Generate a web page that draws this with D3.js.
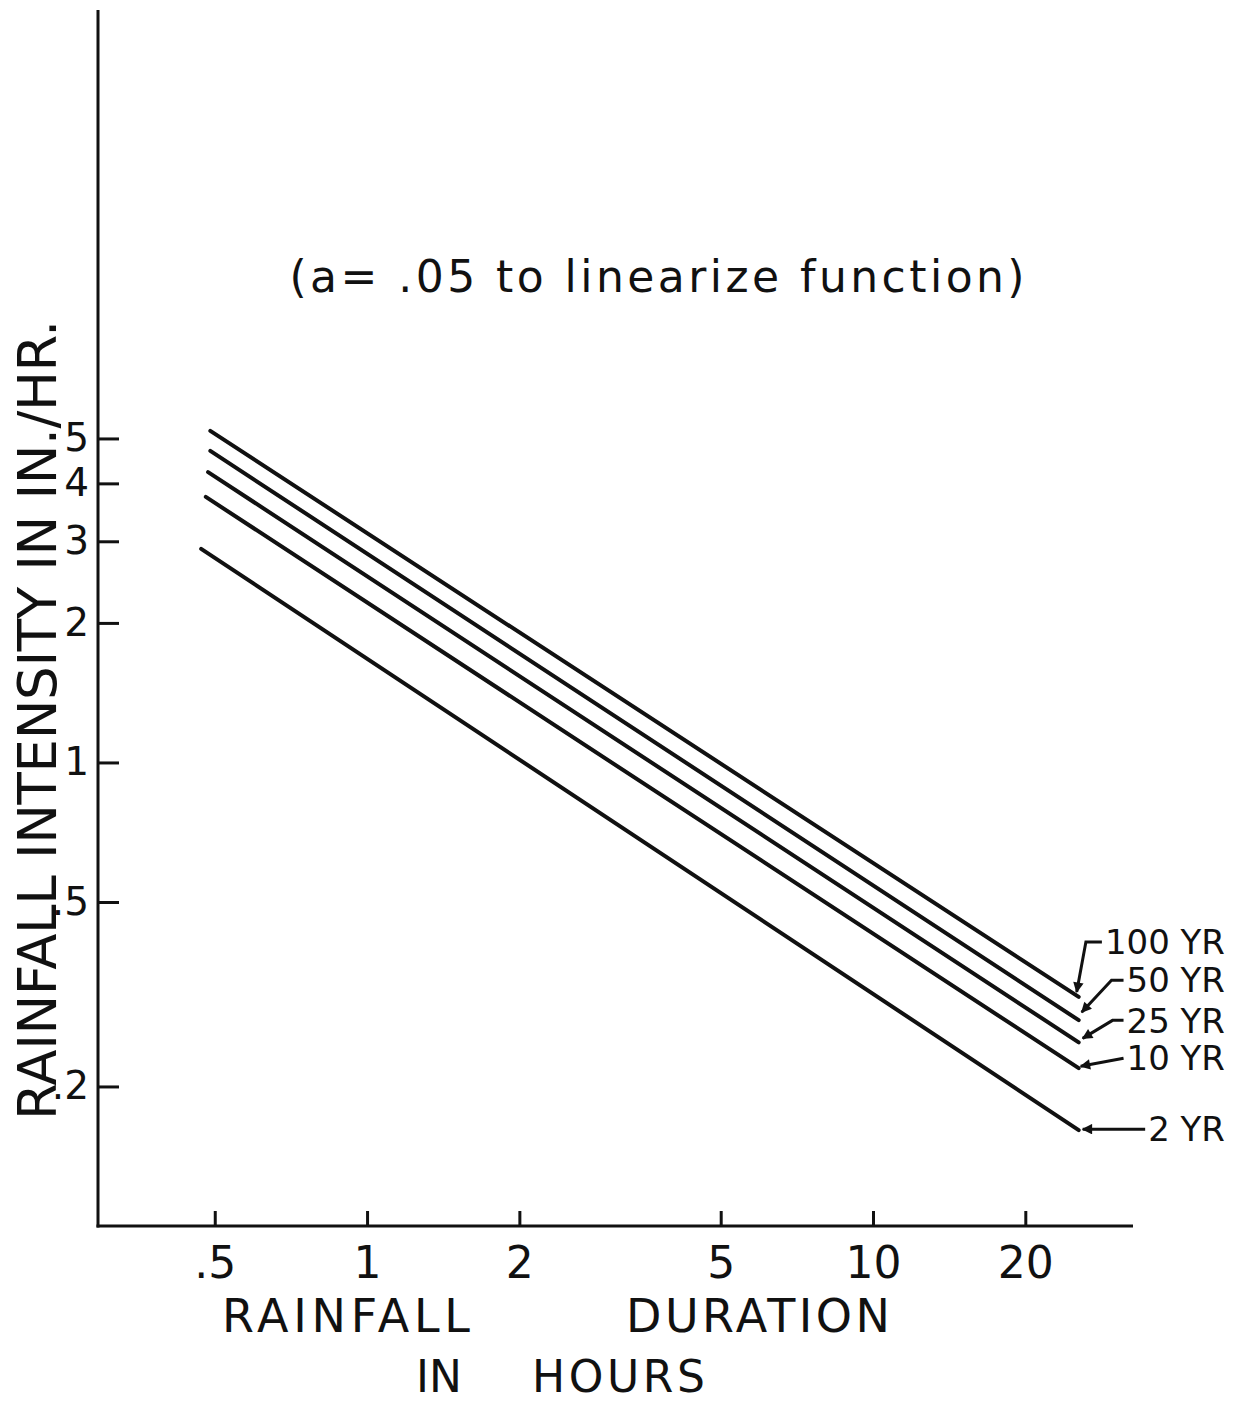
<!DOCTYPE html>
<meta charset="utf-8">
<style>
    body { margin: 0; background: #fff; }
    text { font-family: 'DejaVu Sans', sans-serif; fill: #111; }
    .axis path, .axis line { stroke: #111; stroke-width: 3px; }
    .curve { fill: none; stroke: #111; stroke-width: 4px; stroke-linecap: round; }
    .leader { fill: none; stroke: #111; stroke-width: 3px; }
</style>
<body>
<div id="chart"></div>
<script src="https://d3js.org/d3.v7.min.js"></script>
<script>
    // return periods and the two ends of each straight line (log-log)
    var periods = ["100 YR", "50 YR", "25 YR", "10 YR", "2 YR"];
    var startDuration = [0.49, 0.49, 0.485, 0.48, 0.47];
    var endDuration = [25.5, 25.5, 25.5, 25.5, 25.5];
    var startIntensity = [5.19, 4.70, 4.23, 3.74, 2.89];
    var endIntensity = [0.312, 0.278, 0.249, 0.219, 0.161];

    var xTicks = [0.5, 1, 2, 5, 10, 20];
    var xTickLabels = [".5", "1", "2", "5", "10", "20"];
    var yTicks = [0.2, 0.5, 1, 2, 3, 4, 5];
    var yTickLabels = [".2", ".5", "1", "2", "3", "4", "5"];

    // label placement next to the line ends (layout only)
    var labelDy = [-55, -40, -22, -10, -1];
    var leaderElbow = [16, 12, 11, 0, 0];
    var tipDx = [-2, 3, 4, 2, 4];
    var tipDy = [-5, -8, -4, -2, -1];

    var width = 1242, height = 1402;
    var plotLeft = 98, plotRight = 1133, plotTop = 10, plotBottom = 1226;

    var svg = d3.select("#chart").append("svg")
        .attr("width", width)
        .attr("height", height);

    svg.append("defs").append("marker")
        .attr("id", "arrow")
        .attr("viewBox", "0 0 10 10")
        .attr("refX", 9).attr("refY", 5)
        .attr("markerWidth", 4.5).attr("markerHeight", 3.5)
        .attr("markerUnits", "strokeWidth")
        .attr("orient", "auto")
        .append("path")
        .attr("d", "M0,0L10,5L0,10z")
        .attr("fill", "#111");

    var x = d3.scaleLog().domain([0.2939, 32.65]).range([plotLeft, plotRight]);
    var y = d3.scaleLog().domain([0.1, 42]).range([plotBottom, plotTop]);

    var xAxis = d3.axisBottom(x)
        .tickValues(xTicks)
        .tickFormat(function (d, i) { return xTickLabels[i]; })
        .tickSizeInner(-15).tickSizeOuter(0).tickPadding(21);

    var yAxis = d3.axisLeft(y)
        .tickValues(yTicks)
        .tickFormat(function (d, i) { return yTickLabels[i]; })
        .tickSizeInner(-21).tickSizeOuter(0).tickPadding(9);

    var gx = svg.append("g")
        .attr("class", "axis")
        .attr("transform", "translate(0," + plotBottom + ")")
        .call(xAxis);
    gx.selectAll("text")
        .style("font-size", "44px")
        .attr("fill", "#111");

    var gy = svg.append("g")
        .attr("class", "axis")
        .attr("transform", "translate(" + plotLeft + ",0)")
        .call(yAxis);
    gy.selectAll("text")
        .style("font-size", "39px")
        .attr("fill", "#111");

    // stretch the axes to the hand drawn extents
    gx.select(".domain").attr("d", "M" + (plotLeft - 1.5) + ",0H" + plotRight);
    gy.select(".domain").attr("d", "M0," + plotTop + "V" + (plotBottom + 1.5));

    var series = periods.map(function (p, i) {
        return {
            name: p,
            points: [[startDuration[i], startIntensity[i]], [endDuration[i], endIntensity[i]]]
        };
    });

    var line = d3.line()
        .x(function (d) { return x(d[0]); })
        .y(function (d) { return y(d[1]); });

    svg.append("g").selectAll("path")
        .data(series)
        .enter().append("path")
        .attr("class", "curve")
        .attr("d", function (d) { return line(d.points); });

    // labels on the right with arrows pointing to the line ends
    var labels = svg.append("g").selectAll("g")
        .data(series)
        .enter().append("g");

    labels.append("text")
        .attr("x", 1225)
        .attr("y", function (d, i) { return y(endIntensity[i]) + labelDy[i]; })
        .attr("dy", "0.36em")
        .attr("text-anchor", "end")
        .style("font-size", "34px")
        .text(function (d) { return d.name; });

    labels.append("path")
        .attr("class", "leader")
        .attr("marker-end", "url(#arrow)")
        .attr("d", function (d, i) {
            var t = d3.select(this.parentNode).select("text").node();
            var sx = 1225 - t.getComputedTextLength() - 3;
            var sy = y(endIntensity[i]) + labelDy[i];
            var ex = x(endDuration[i]) + tipDx[i];
            var ey = y(endIntensity[i]) + tipDy[i];
            var p = d3.path();
            p.moveTo(sx, sy);
            if (leaderElbow[i] > 0) p.lineTo(sx - leaderElbow[i], sy);
            p.lineTo(ex, ey);
            return p.toString();
        });

    svg.append("text")
        .attr("x", 657)
        .attr("y", 292)
        .attr("text-anchor", "middle")
        .attr("textLength", 735)
        .attr("lengthAdjust", "spacing")
        .style("font-size", "44px")
        .text("(a= .05 to linearize function)");

    svg.append("text")
        .attr("transform", "translate(56,720) rotate(-90)")
        .attr("text-anchor", "middle")
        .attr("textLength", 800)
        .attr("lengthAdjust", "spacing")
        .style("font-size", "53px")
        .text("RAINFALL INTENSITY IN IN./HR.");

    var words = [
        { t: "RAINFALL", x: 222, y: 1332, w: 248 },
        { t: "DURATION", x: 626, y: 1332, w: 264 },
        { t: "IN", x: 416, y: 1392, w: 0 },
        { t: "HOURS", x: 532, y: 1392, w: 173 }
    ];
    var wordText = svg.append("g").selectAll("text")
        .data(words)
        .enter().append("text")
        .attr("x", function (d) { return d.x; })
        .attr("y", function (d) { return d.y; })
        .style("font-size", function (d) { return d.y > 1350 ? "44px" : "46px"; })
        .text(function (d) { return d.t; });
    wordText.filter(function (d) { return d.w > 0; })
        .attr("textLength", function (d) { return d.w; })
        .attr("lengthAdjust", "spacing");
</script>
</body>
